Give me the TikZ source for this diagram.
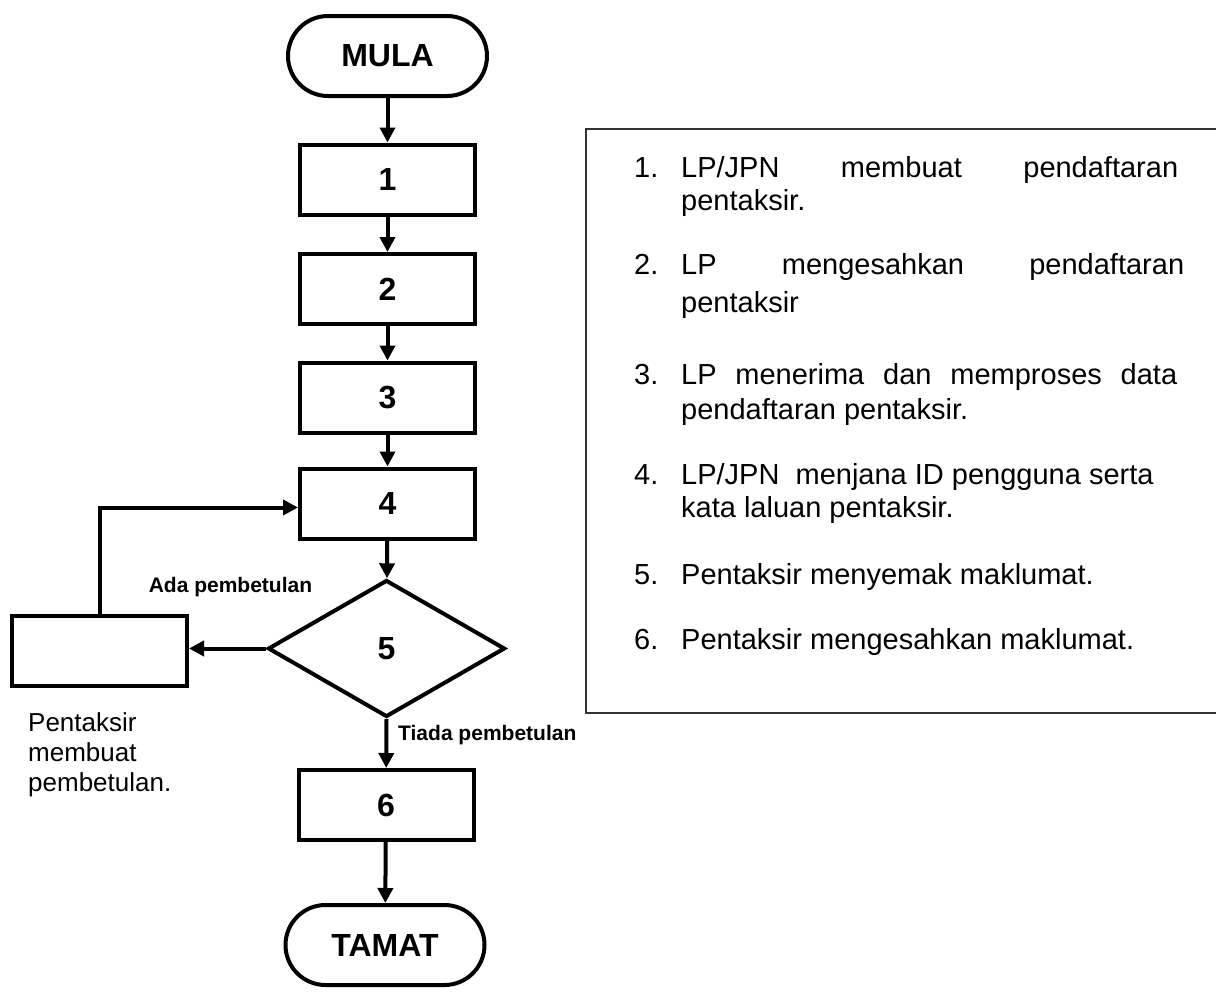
\documentclass[tikz,border=0pt]{standalone}
\usepackage{fontspec}
\setmainfont{Liberation Sans}
\usetikzlibrary{arrows.meta,shapes.geometric}

\tikzset{
  box/.style={draw, line width=4pt, minimum width=175pt, minimum height=70pt, inner sep=0pt, font=\fontsize{32}{38}\selectfont\bfseries},
  term/.style={box, rounded corners=40pt, minimum width=199pt, minimum height=80pt},
  decide/.style={box, diamond, minimum width=237pt, minimum height=137pt},
  flow/.style={draw, line width=4pt, -{Triangle[length=15pt,width=15pt]}},
  tag/.style={inner sep=0pt, font=\fontsize{21}{25}\selectfont\bfseries},
  item/.style={anchor=mid west, inner sep=0pt, font=\fontsize{29}{34}\selectfont},
}

\begin{document}
\begin{tikzpicture}[x=1pt, y=1pt]
            \useasboundingbox (0,0) rectangle (1216,-999);
            % flow chart
            \node[term] (mula) at (387.5,-56) {MULA};
            \node[box] (b1) at (387.5,-179.5) {1};
            \node[box] (b2) at (387.5,-289) {2};
            \node[box] (b3) at (387.5,-397.5) {3};
            \node[box] (b4) at (387.5,-503.5) {4};
            \node[decide] (d5) at (386.5,-648.5) {5};
            \node[box] (betul) at (99.5,-651) {};
            \node[box] (b6) at (386,-805) {6};
            \node[term] (tamat) at (385,-945) {TAMAT};
            % arrows
            \path[flow] (mula) to (b1);
            \path[flow] (b1) to (b2);
            \path[flow] (b2) to (b3);
            \path[flow] (b3) to (b4);
            \path[flow] (b4) to (d5);
            \path[flow] (d5.west) to (d5.west -| betul.east);
            \path[flow] (betul.north) |- ([yshift=-4pt]b4.west);
            \path[flow] (d5.south) to (b6);
            \path[flow] (b6) to (tamat);
            % labels
            \node[tag] (ada) at (230.5,-587) {Ada pembetulan};
            \node[tag, anchor=west] (tiada) at (398,-735) {Tiada pembetulan};
            \node[align=left, anchor=north west, inner sep=0pt, font=\fontsize{26}{30}\selectfont] (nota) at (28,-712) {Pentaksir\\membuat\\pembetulan.};
            % panel
            \path[draw, line width=1.5pt, black!80] (1216,-129) -- (586,-129) -- (586,-713) -- (1216,-713);
            \foreach \k/\y in {1/175, 2/272, 3/382, 4/482, 5/582, 6/647}
                \node[item] (n\k) at (634,-\y) {\k.};
            \node[item] (t1a) at (681,-175) {\makebox[497pt][s]{LP/JPN membuat pendaftaran}};
            \node[item] (t1b) at (681,-208) {pentaksir.};
            \node[item] (t2a) at (681,-272) {\makebox[503pt][s]{LP mengesahkan pendaftaran}};
            \node[item] (t2b) at (681,-310) {pentaksir};
            \node[item] (t3a) at (681,-382) {\makebox[496pt][s]{LP menerima dan memproses data}};
            \node[item] (t3b) at (681,-417) {pendaftaran pentaksir.};
            \node[item] (t4a) at (681,-482) {LP/JPN\ \ menjana ID pengguna serta};
            \node[item] (t4b) at (681,-515) {kata laluan pentaksir.};
            \node[item] (t5) at (681,-582) {Pentaksir menyemak maklumat.};
            \node[item] (t6) at (681,-647) {Pentaksir mengesahkan maklumat.};
\end{tikzpicture}
\end{document}
